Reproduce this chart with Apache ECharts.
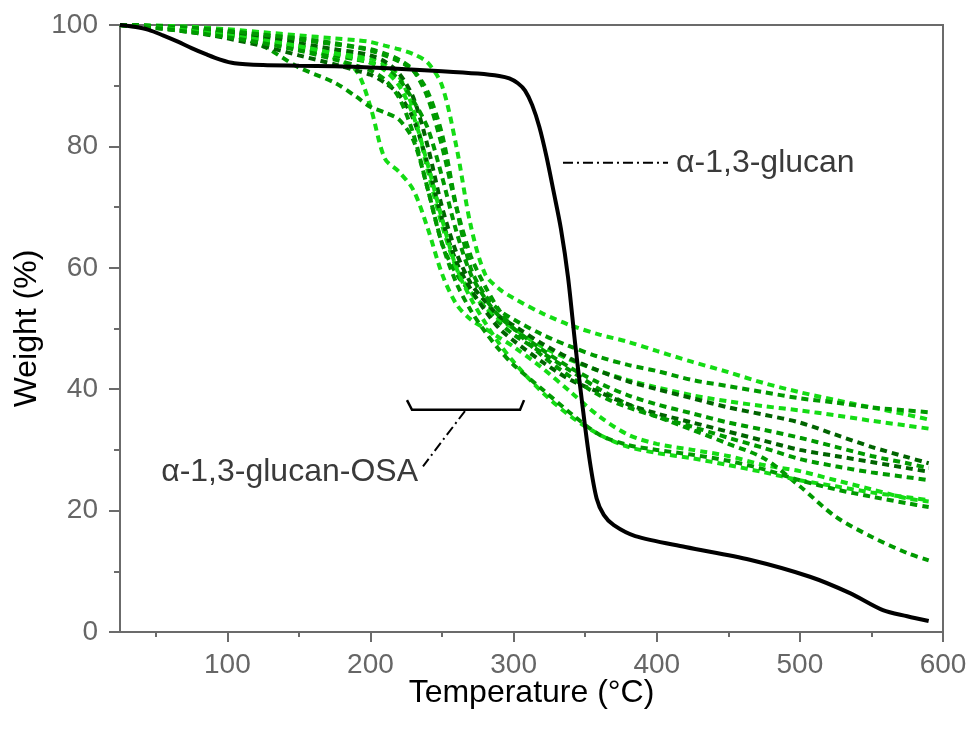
<!DOCTYPE html>
<html>
<head>
<meta charset="utf-8">
<script src="https://cdn.jsdelivr.net/npm/echarts@6/dist/echarts.min.js"></script>
<style>
html,body{margin:0;padding:0;background:#fff;}
#chart{width:971px;height:733px;}
</style>
</head>
<body>
<div id="chart"></div>
<script>
// ---- data ----
var xMajorTicks = [100, 200, 300, 400, 500, 600];
var xMinorTicks = [50, 150, 250, 350, 450, 550];

var blackT = [25, 35, 45, 55, 65, 75, 85, 95, 105, 125, 150, 175, 200, 225, 250, 275, 290, 297, 303, 308, 313, 318, 323, 328, 333, 338, 343, 348, 353, 358, 363, 370, 385, 420, 465, 507, 535, 558, 575, 590];
var glucanW = [100, 99.7, 99.2, 98.3, 97.3, 96.2, 95.2, 94.3, 93.7, 93.4, 93.3, 93.2, 93, 92.7, 92.4, 92, 91.6, 91.2, 90.4, 89.2, 86.8, 83.2, 78.3, 72.5, 66.5, 58.5, 47.5, 37.5, 28.5, 22, 19.3, 17.6, 15.8, 14, 11.9, 9.1, 6.4, 3.6, 2.6, 1.8];

var greenT = [25, 50, 75, 100, 125, 150, 175, 190, 200, 210, 220, 230, 240, 250, 260, 270, 280, 290, 300, 320, 340, 360, 380, 400, 425, 450, 475, 500, 525, 550, 575, 590];
var osaA = [100, 99.8, 99.4, 98.8, 97.8, 96.5, 94.5, 92.5, 86.5, 78, 75.8, 72.8, 66.5, 59, 54, 51.5, 50, 48.5, 47, 43.5, 39.5, 35.5, 32.5, 31, 30, 29, 27.5, 26.5, 25, 23.5, 22, 21.5];
var osaB = [100, 99.8, 99.3, 98.5, 96.5, 93, 90.5, 88.2, 86.5, 85.6, 84.4, 81, 73, 64, 59, 56, 53.5, 51, 49, 46, 43, 40, 37.5, 35.5, 33.3, 31, 28.6, 24, 19, 15.7, 13, 11.8];
var osaC = [100, 99.9, 99.7, 99.3, 98.8, 98.3, 97.8, 97.5, 97.2, 96.6, 96, 95.2, 93.8, 90, 80, 67, 59, 56.5, 55, 52.5, 50.5, 49, 47.8, 46.3, 44.5, 42.8, 41, 39.5, 38.2, 37, 35.8, 35];
var osaD = [100, 99.8, 99.5, 99, 98.3, 97.6, 96.8, 96.3, 95.8, 95, 94, 92.5, 89, 82, 70, 60, 55.5, 53, 51.5, 49, 47, 45.3, 44, 43, 41.5, 40.5, 39.5, 38.5, 37.8, 37, 36.5, 36.2];
var osaE = [100, 99.7, 99.2, 98.5, 97.5, 96.5, 95.5, 95, 94.5, 93.5, 91.5, 86, 76, 67, 60, 56, 53.5, 51.5, 50, 47, 44.8, 43, 41.5, 40.3, 39, 38, 37.2, 36.5, 35.7, 34.8, 34, 33.5];
var osaF = [100, 99.8, 99.4, 98.8, 98, 97, 96, 95.5, 95, 94, 92, 88, 80, 70, 62.5, 57.5, 54.5, 52, 50.5, 47.5, 45, 43, 41.3, 40, 38.5, 37, 35.8, 34.5, 32.5, 30.5, 28.8, 27.8];
var osaG = [100, 99.6, 99, 98.2, 97.2, 96, 95, 94.3, 93.8, 92.8, 91, 87.5, 83, 75, 66, 59, 55, 52, 50, 46.5, 43.5, 41, 39, 37.5, 36, 34.5, 33.3, 32, 30.5, 29, 27.8, 27];
var osaH = [100, 99.5, 98.8, 97.8, 96.5, 95, 93.5, 92.5, 91.8, 90.5, 88.5, 84.5, 77, 68, 61, 56.5, 53, 50, 48, 44.5, 41.5, 39.5, 37.5, 36, 34.5, 33, 31.5, 30, 29, 28, 27, 26.4];
var osaI = [100, 99.8, 99.5, 99, 98.4, 97.8, 97, 96.4, 96, 95.3, 94.3, 92.5, 88, 80, 70, 62, 57, 53, 50, 45.5, 42, 39, 37, 35.5, 33.8, 32, 30.3, 28.5, 27.3, 26.3, 25.5, 25];
var osaJ = [100, 99.6, 99, 98.3, 97.5, 96.5, 95.3, 94.5, 93.8, 92.5, 90, 85, 77, 68, 60, 55, 51, 47.5, 44.5, 39.5, 35.5, 32.5, 30.5, 29.5, 28.6, 27.5, 26.3, 25, 24, 23, 22.2, 21.7];
var osaK = [100, 99.5, 98.8, 98, 97, 95.8, 94.3, 93.3, 92.5, 91, 88, 82, 73, 64, 57.5, 53, 49.5, 46.5, 44, 40, 36, 32.5, 30.8, 30, 29.2, 28.2, 26.8, 25, 23.5, 22.3, 21.2, 20.6];

var osaSeries = [osaA, osaB, osaC, osaD, osaE, osaF, osaG, osaH, osaI, osaJ, osaK];

// ---- styles ----
var LIGHT = '#14dc14', MED = '#009a00', DARK = '#006400';
var osaColors = [LIGHT, MED, LIGHT, MED, LIGHT, DARK, MED, DARK, MED, LIGHT, MED];
var FONT = "'Liberation Sans', Arial, sans-serif";
var AXC = '#6b6b6b';

function pairs(xs, ys) { return xs.map(function (x, i) { return [x, ys[i]]; }); }

var series = osaSeries.map(function (vals, i) {
  return {
    type: 'line', xAxisIndex: 0, yAxisIndex: 0,
    data: pairs(greenT, vals),
    showSymbol: false, smooth: 0.3,
    lineStyle: { color: osaColors[i], width: 4, type: [7, 5] },
    z: 2, silent: true
  };
});
series.push({
  type: 'line', xAxisIndex: 0, yAxisIndex: 0,
  data: pairs(blackT, glucanW),
  showSymbol: false, smooth: 0.3,
  lineStyle: { color: '#000', width: 4 },
  z: 3, silent: true
});

var chart = echarts.init(document.getElementById('chart'), null, { renderer: 'canvas' });
chart.setOption({
  animation: false,
  backgroundColor: '#fff',
  grid: { left: 120, right: 28, top: 25, bottom: 101, show: true, borderColor: AXC, borderWidth: 2, containLabel: false },
  xAxis: [{
    type: 'value', min: 25, max: 600, position: 'bottom',
    axisLine: { show: true, onZero: false, lineStyle: { color: AXC, width: 2 } },
    axisTick: { show: true, inside: false, length: 10, customValues: xMajorTicks, lineStyle: { color: AXC, width: 2 } },
    axisLabel: { customValues: xMajorTicks, fontSize: 28, fontFamily: FONT, color: '#666', margin: 19 },
    splitLine: { show: false },
    name: 'Temperature (°C)', nameLocation: 'middle', nameGap: 45, nameMoveOverlap: false,
    nameTextStyle: { fontSize: 32, fontFamily: FONT, color: '#000' }
  }, {
    type: 'value', min: 25, max: 600, position: 'bottom',
    axisLine: { show: false },
    axisTick: { show: true, inside: false, length: 5, customValues: xMinorTicks, lineStyle: { color: AXC, width: 2 } },
    axisLabel: { show: false },
    splitLine: { show: false }
  }],
  yAxis: {
    type: 'value', min: 0, max: 100, interval: 20,
    axisLine: { show: true, onZero: false, lineStyle: { color: AXC, width: 2 } },
    axisTick: { show: true, inside: false, length: 11, lineStyle: { color: AXC, width: 2 } },
    minorTick: { show: true, splitNumber: 2, length: 6, lineStyle: { color: AXC, width: 2 } },
    axisLabel: { fontSize: 28, fontFamily: FONT, color: '#666', margin: 22 },
    splitLine: { show: false },
    name: 'Weight (%)', nameLocation: 'middle', nameGap: 77, nameMoveOverlap: false,
    nameTextStyle: { fontSize: 32, fontFamily: FONT, color: '#000' }
  },
  series: series
});

// ---- annotations (placed in data coordinates) ----
function px(p) { return chart.convertToPixel({ xAxisIndex: 0, yAxisIndex: 0 }, p); }
var g1a = px([334.5, 77.3]), g1b = px([407.9, 77.3]), g1t = px([413.5, 77.3]);
var b1 = px([225.5, 38.2]), b2 = px([229, 36.6]), b3 = px([304.5, 36.6]), b4 = px([307.3, 38.2]);
var l1 = px([266, 36.4]), l2 = px([236.7, 27.3]);
var t2 = px([233.2, 26.4]);
var DASHDOT = [10, 4, 2, 4];
chart.setOption({
  graphic: [
    { type: 'line', shape: { x1: g1a[0], y1: g1a[1], x2: g1b[0], y2: g1b[1] },
      style: { stroke: '#000', lineWidth: 2, lineDash: DASHDOT }, z: 10 },
    { type: 'text', x: g1t[0], y: g1t[1],
      style: { text: 'α-1,3-glucan', font: '32px ' + FONT, fill: '#3a3a3a', textAlign: 'left', textVerticalAlign: 'middle' }, z: 10 },
    { type: 'polyline', shape: { points: [b1, b2, b3, b4] },
      style: { stroke: '#000', lineWidth: 2.5, fill: null }, z: 10 },
    { type: 'line', shape: { x1: l1[0], y1: l1[1], x2: l2[0], y2: l2[1] },
      style: { stroke: '#000', lineWidth: 2, lineDash: DASHDOT }, z: 10 },
    { type: 'text', x: t2[0], y: t2[1],
      style: { text: 'α-1,3-glucan-OSA', font: '32px ' + FONT, fill: '#3a3a3a', textAlign: 'right', textVerticalAlign: 'middle' }, z: 10 }
  ]
});
</script>
</body>
</html>
